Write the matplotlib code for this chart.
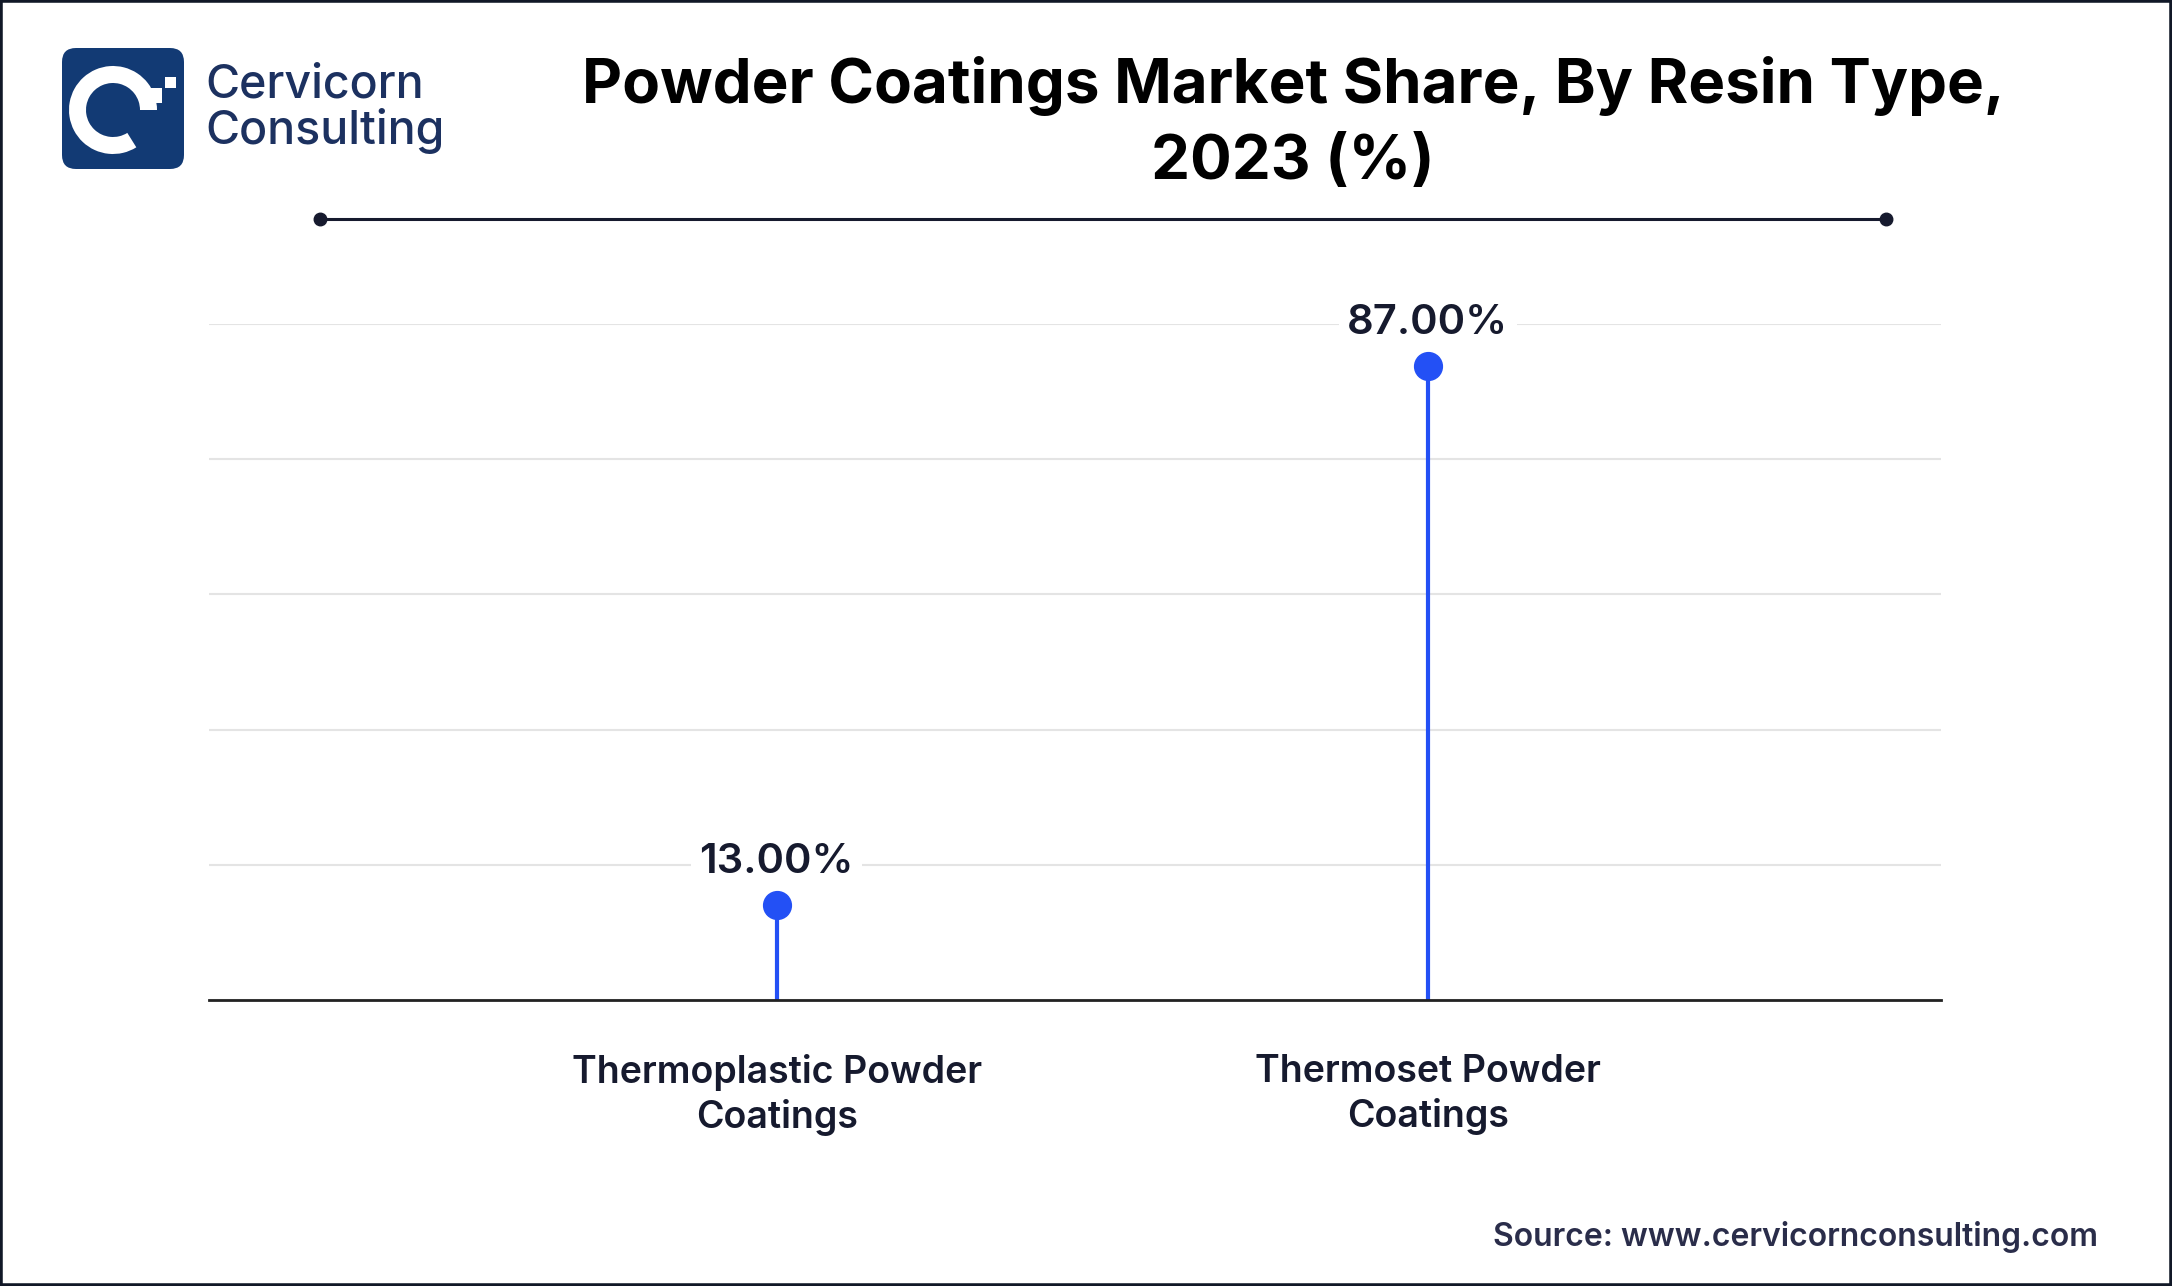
import matplotlib
matplotlib.use("Agg")
import matplotlib.pyplot as plt
from matplotlib.patches import FancyBboxPatch, Wedge, Rectangle
import numpy as np

categories = ["Thermoplastic Powder\nCoatings", "Thermoset Powder\nCoatings"]
values = [13.00, 87.00]
labels = ["13.00%", "87.00%"]
title = "Powder Coatings Market Share, By Resin Type,\n2023 (%)"
source = "Source: www.cervicornconsulting.com"

W, H = 2172, 1286
fig = plt.figure(figsize=(W / 100, H / 100), dpi=100)
fig.patch.set_facecolor("white")

FONT = ["Inter", "DejaVu Sans"]
DARK = "#161a2e"
BLUE = "#2350F5"
NAVY = "#123a74"

# main axes
ax = fig.add_axes([209 / W, 1 - 1000 / H, (1941 - 209) / W, (1000 - 324) / H])
ymax = 92.8
ax.set_ylim(0, ymax)
x = np.arange(len(values))
ax.set_xlim(-0.872, 1.788)
ax.set_yticks(np.linspace(0, ymax, 6))
ax.yaxis.grid(True, color="#e4e4e4", linewidth=1.5)
ax.set_axisbelow(True)
for s in ["top", "right", "left"]:
    ax.spines[s].set_visible(False)
ax.spines["bottom"].set_color("#222222")
ax.spines["bottom"].set_linewidth(2)
ax.tick_params(axis="y", left=False, labelleft=False)
ax.tick_params(axis="x", length=0, pad=39)
ax.set_xticks(x)
ax.set_xticklabels(categories, fontsize=27, fontfamily=FONT, fontweight="semibold",
                   color=DARK, linespacing=1.28)

ax.vlines(x, 0, values, color=BLUE, linewidth=3)
ax.plot(x, values, "o", color=BLUE, markersize=20, zorder=3, clip_on=False)
for xi, v, lab in zip(x, values, labels):
    ax.annotate(lab, (xi, v), xytext=(0, 31), textcoords="offset points",
                ha="center", va="center", fontsize=30, fontfamily=FONT,
                fontweight="semibold", color=DARK,
                bbox=dict(facecolor="white", edgecolor="none", pad=6))

# title
fig.text(1293 / W, 1 - 124 / H, title, ha="center", va="center", fontsize=44.5,
         fontfamily=FONT, fontweight="bold", color="black", linespacing=1.4)

# decorative line
fig.add_artist(plt.Line2D([320 / W, 1886 / W], [1 - 219 / H, 1 - 219 / H],
                          color=DARK, linewidth=2.2, marker="o", markersize=9,
                          markevery=[0, 1]))

# source
fig.text(2098 / W, 1 - 1237 / H, source, ha="right", va="center", fontsize=23,
         fontfamily=FONT, fontweight="semibold", color="#2a2d4a")

# logo
lax = fig.add_axes([62 / W, 1 - 169 / H, 122 / W, 121 / H])
lax.set_xlim(62, 184)
lax.set_ylim(169, 48)
lax.set_aspect("auto")
lax.axis("off")
lax.add_patch(FancyBboxPatch((62, 48), 122, 121, boxstyle="round,pad=0,rounding_size=14",
                             facecolor=NAVY, edgecolor="none"))
lax.add_patch(Wedge((113, 110), 44, 58, 360, width=17, facecolor="white", edgecolor="none"))
lax.add_patch(Rectangle((147, 88), 15, 15, facecolor="white", edgecolor="none"))
lax.add_patch(Rectangle((165, 77), 11, 11, facecolor="white", edgecolor="none"))

fig.text(205 / W, 1 - 86 / H, "Cervicorn", ha="left", va="center", fontsize=33.5,
         fontfamily=FONT, fontweight="medium", color="#1c3160")
fig.text(205 / W, 1 - 131 / H, "Consulting", ha="left", va="center", fontsize=33.5,
         fontfamily=FONT, fontweight="medium", color="#1c3160")

# border
fig.add_artist(Rectangle((0, 0), 1, 1, transform=fig.transFigure, fill=False,
                         edgecolor="#111827", linewidth=4))

fig.savefig("out.png", dpi=100, facecolor="white")
